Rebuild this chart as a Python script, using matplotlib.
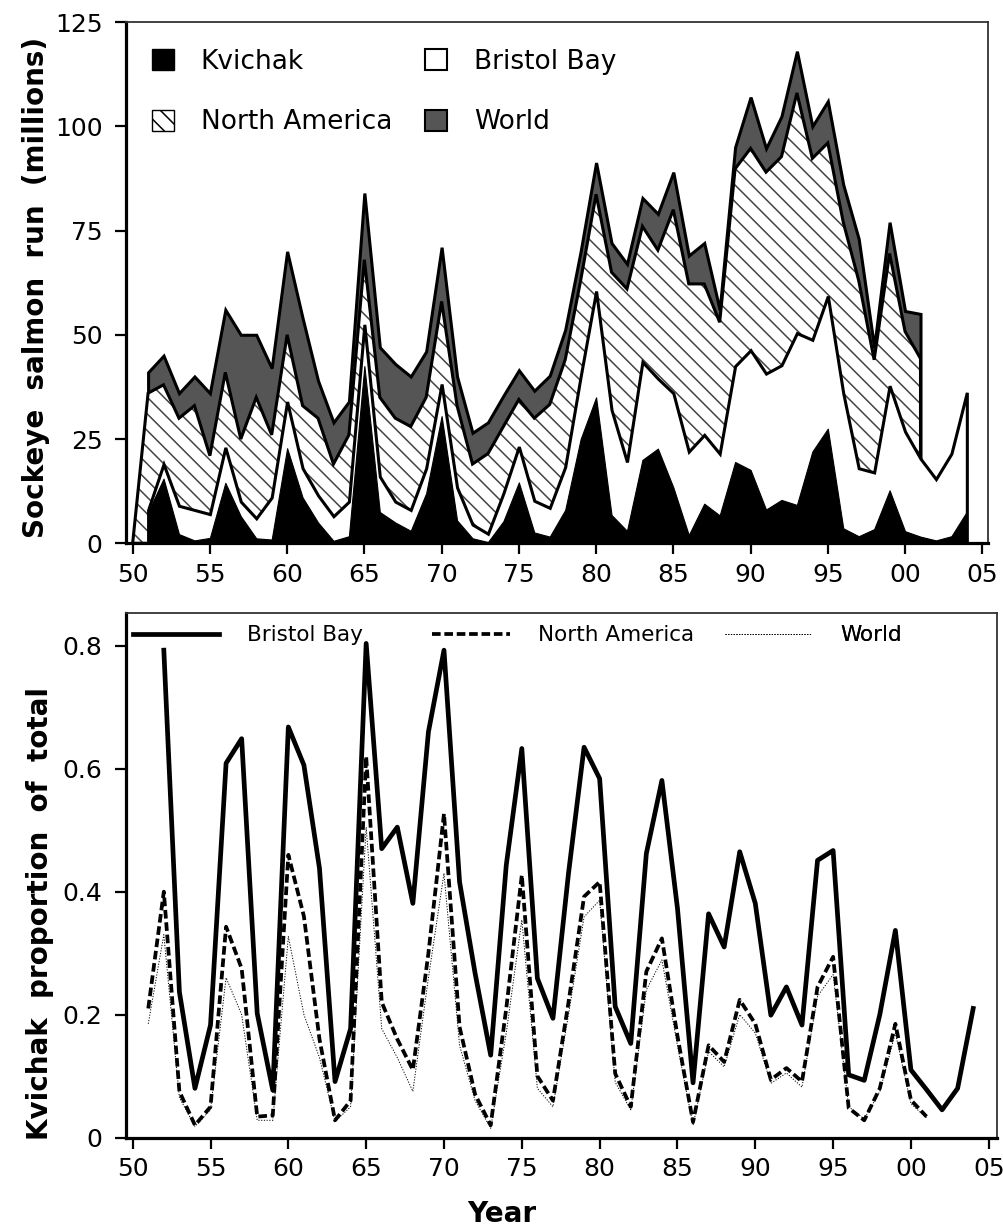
import matplotlib
matplotlib.use("Agg")
import matplotlib.pyplot as plt
from matplotlib.patches import Patch

plt.rcParams['font.family'] = ['DejaVu Sans']
plt.rcParams['hatch.linewidth'] = 1.1

# ---- top panel: sockeye run size (millions) ----
world_years = list(range(1951, 2002))
na_years = list(range(1950, 2002))
bb_years = list(range(1951, 2005))
kv_years = list(range(1951, 2005))

world_run = [41, 45, 36, 40, 36, 56, 50, 50, 42, 70,
             54, 39, 29, 34, 84, 47, 43, 40, 46, 71,
             40, 26.5, 29, 35.4, 41.5, 36.6, 40.2, 51.2, 70, 91.3,
             72, 67, 82.8, 79, 89, 69, 72, 56, 95, 107,
             94.7, 102.4, 118, 100, 106, 86, 73, 47, 77, 55.7,
             55]
north_america_run = [0,
                     36, 38, 30, 33, 21, 41, 25, 35, 26, 50,
                     33, 30, 19, 26, 68, 35, 30, 28, 35, 58,
                     33, 19, 21.5, 28, 34.5, 30, 33.3, 44, 63, 83.7,
                     65, 61, 76, 70.3, 80, 62.2, 62.2, 53, 89.8, 94.7,
                     89, 92.7, 108, 92.3, 96, 77, 63, 44, 69.5, 50.8,
                     44.3]
bristol_bay_run = [8, 19, 9, 8, 7, 23, 10, 6, 11, 34,
                   18, 11.5, 6.5, 10, 52.5, 16, 10, 8, 18, 38.2,
                   13.4, 4.5, 2.3, 12, 23.2, 10.2, 8.5, 18.3, 40, 60.5,
                   32, 19.5, 43.5, 39.5, 36, 22, 26, 21.5, 42.5, 46.3,
                   40.7, 42.7, 50.4, 48.8, 59.3, 36, 18, 17, 37.8, 26.8,
                   20.3, 15.4, 21.5, 36.2]
kvichak_run = [7.5, 15.5, 2.2, 0.7, 1.3, 14.5, 6.5, 1.2, 0.9, 22.8,
               11, 5, 0.6, 1.7, 42.5, 7.5, 5, 3, 12, 30.5,
               5.5, 1.2, 0.3, 5.3, 14.6, 2.6, 1.6, 8, 25, 35,
               6.8, 3, 20, 22.7, 13.4, 2, 9.5, 6.7, 19.5, 17.6,
               8.1, 10.4, 9.2, 22, 27.5, 3.6, 1.7, 3.4, 12.7, 2.9,
               1.6, 0.7, 1.7, 7.6]

# ---- bottom panel: Kvichak share of each total ----
bb_share_years = list(range(1952, 2005))
share_years = list(range(1951, 2002))

bb_share = [0.793, 0.237, 0.08, 0.183, 0.609, 0.649, 0.202, 0.077, 0.668,
            0.606, 0.438, 0.091, 0.177, 0.804, 0.47, 0.505, 0.381, 0.66, 0.793,
            0.416, 0.267, 0.134, 0.443, 0.633, 0.259, 0.194, 0.43, 0.635, 0.584,
            0.213, 0.153, 0.462, 0.581, 0.373, 0.089, 0.364, 0.31, 0.465, 0.381,
            0.199, 0.245, 0.183, 0.451, 0.467, 0.102, 0.093, 0.2, 0.337, 0.11,
            0.078, 0.045, 0.08, 0.21]
na_share = [0.21, 0.4, 0.075, 0.02, 0.05, 0.343, 0.275, 0.034, 0.036, 0.46,
            0.36, 0.16, 0.028, 0.06, 0.62, 0.22, 0.16, 0.11, 0.3, 0.527,
            0.18, 0.07, 0.02, 0.21, 0.427, 0.1, 0.06, 0.22, 0.392, 0.416,
            0.104, 0.05, 0.27, 0.324, 0.165, 0.025, 0.15, 0.123, 0.224, 0.185,
            0.094, 0.113, 0.091, 0.245, 0.294, 0.048, 0.028, 0.08, 0.185, 0.061,
            0.034]
world_share = [0.185, 0.33, 0.065, 0.018, 0.045, 0.26, 0.2, 0.028, 0.028, 0.327,
               0.2, 0.13, 0.026, 0.05, 0.505, 0.177, 0.13, 0.075, 0.26, 0.43,
               0.15, 0.06, 0.015, 0.17, 0.354, 0.08, 0.05, 0.2, 0.359, 0.386,
               0.09, 0.045, 0.24, 0.289, 0.15, 0.02, 0.14, 0.115, 0.2, 0.17,
               0.088, 0.105, 0.082, 0.23, 0.265, 0.05, 0.03, 0.075, 0.17, 0.055,
               0.032]

year_ticks = list(range(1950, 2006, 5))
year_labels = [f"{y % 100:02d}" for y in year_ticks]

W, H = 1004, 1232
fig = plt.figure(figsize=(W / 100, H / 100), dpi=100)
ax1 = fig.add_axes([126 / W, 1 - 543.3 / H, (988 - 126) / W, (543.3 - 22) / H])
ax2 = fig.add_axes([126 / W, 1 - 1137.5 / H, (996.7 - 126) / W, (1137.5 - 613.3) / H])


def style_axes(ax):
    for side in ("left", "bottom"):
        ax.spines[side].set_linewidth(2.3)
    for side in ("top", "right"):
        ax.spines[side].set_linewidth(1.3)
        ax.spines[side].set_color("#333333")
    ax.tick_params(direction="out", length=8, width=1.6, labelsize=18)
    ax.tick_params(axis="x", pad=6)
    ax.tick_params(axis="y", pad=9)
    ax.set_xticks(year_ticks)
    ax.set_xticklabels(year_labels)


# ---- top: overlapping areas, biggest drawn first ----
ax1.fill_between(world_years, 0, world_run, facecolor="#555555",
                 edgecolor="black", linewidth=2.2, joinstyle="miter")
ax1.fill_between(na_years, 0, north_america_run, facecolor="white",
                 edgecolor="#444444", hatch="\\\\", linewidth=0)
ax1.fill_between(na_years, 0, north_america_run, facecolor="none",
                 edgecolor="black", linewidth=2.2, joinstyle="miter")
ax1.fill_between(bb_years, 0, bristol_bay_run, facecolor="white",
                 edgecolor="black", linewidth=2.2, joinstyle="miter")
ax1.fill_between(kv_years, 0, kvichak_run, facecolor="black",
                 edgecolor="black", linewidth=0.8)

ax1.set_xlim(1949.57, 2005.37)
ax1.set_ylim(0, 125)
ax1.set_yticks([0, 25, 50, 75, 100, 125])
style_axes(ax1)
ax1.set_ylabel("Sockeye  salmon  run  (millions)", fontsize=20, fontweight="bold")
ax1.yaxis.set_label_coords(-0.088, 0.49)

handles = [Patch(facecolor="black", edgecolor="black"),
           Patch(facecolor="white", edgecolor="black", hatch="\\\\"),
           Patch(facecolor="white", edgecolor="black", linewidth=1.5),
           Patch(facecolor="#555555", edgecolor="black", linewidth=1.5)]
labels = ["Kvichak", "North America", "Bristol Bay", "World"]
ax1.legend(handles, labels, ncol=2, loc="upper left", bbox_to_anchor=(0.030, 0.948),
           frameon=False, fontsize=19, handlelength=0.85, handleheight=0.85,
           handletextpad=1.0, labelspacing=1.3, columnspacing=1.25,
           borderpad=0, borderaxespad=0)

# ---- bottom: Kvichak proportions ----
bb_line, = ax2.plot(bb_share_years, bb_share, color="black", lw=3.4)
na_line, = ax2.plot(share_years, na_share, color="black", lw=2.7,
                    dashes=(2.3, 1.0))
world_line, = ax2.plot(share_years, world_share, color="black", lw=0.7,
                       dashes=(1.2, 1.6))

ax2.set_xlim(1949.57, 2005.51)
ax2.set_ylim(0, 0.853)
ax2.set_yticks([0, 0.2, 0.4, 0.6, 0.8])
ax2.set_yticklabels(["0", "0.2", "0.4", "0.6", "0.8"])
style_axes(ax2)
ax2.set_ylabel("Kvichak  proportion  of  total", fontsize=20, fontweight="bold")
ax2.yaxis.set_label_coords(-0.083, 0.427)

key_y = 0.958
for line, label, x0, hl in [(bb_line, "Bristol Bay", 0.0077, 4.0),
                            (na_line, "North America", 0.3511, 3.65),
                            (world_line, "World", 0.6879, 4.05)]:
    leg = ax2.legend([line], [label], loc="center left", bbox_to_anchor=(x0, key_y),
                     frameon=False, fontsize=15.5, handlelength=hl,
                     handletextpad=1.3, borderpad=0, borderaxespad=0)
    ax2.add_artist(leg)

fig.text(0.5, 1 - 1214 / H, "Year", ha="center", va="center",
         fontsize=20, fontweight="bold")

fig.savefig("out.png", dpi=100)
